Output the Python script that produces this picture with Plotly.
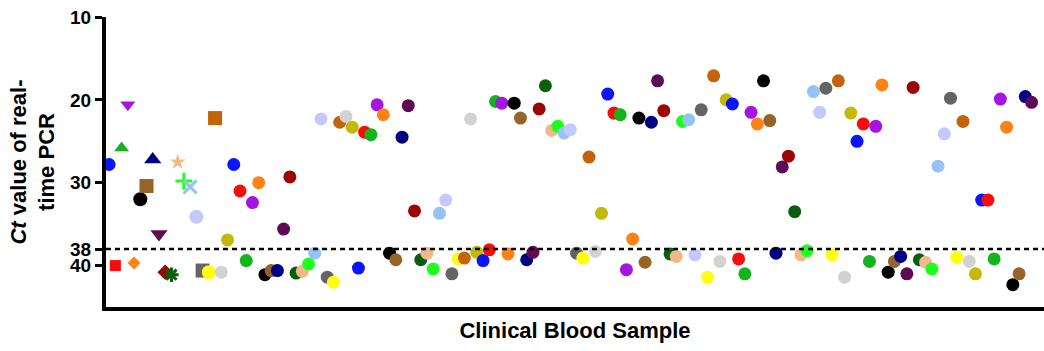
import plotly.graph_objects as go

# Ct values of the clinical blood samples, in sample order (1..149)
ct_values = [
    27.8, 40.0, 25.8, 20.6, 39.7, 32.0, 30.4, 27.2, 36.2, 40.8,
    41.1, 27.5, 29.8, 30.5, 34.1, 40.6, 40.8, 22.2, 40.8, 36.9,
    27.8, 31.0, 39.4, 32.4, 30.0, 41.1, 40.6, 40.6, 35.6, 29.3,
    40.9, 40.7, 39.8, 38.5, 22.3, 41.4, 42.0, 22.7, 22.0, 23.3,
    40.3, 23.9, 24.2, 20.6, 21.8, 38.5, 39.3, 24.5, 20.7, 33.4,
    39.3, 38.5, 40.4, 33.7, 32.1, 41.0, 39.2, 39.1, 22.3, 38.4,
    39.4, 38.1, 20.2, 20.4, 38.6, 20.4, 22.2, 39.3, 38.4, 21.1,
    18.3, 23.7, 23.2, 24.0, 23.6, 38.5, 39.1, 26.9, 38.3, 33.7,
    19.3, 21.6, 21.8, 40.5, 36.8, 22.2, 39.6, 22.7, 17.7, 21.3,
    38.6, 38.9, 22.6, 22.4, 38.7, 21.2, 41.4, 17.1, 39.5, 20.0,
    20.5, 39.2, 41.0, 21.5, 22.9, 17.7, 22.5, 38.5, 28.1, 26.8,
    33.5, 38.7, 38.2, 19.0, 21.5, 18.6, 38.7, 17.7, 41.4, 21.6,
    25.0, 22.9, 39.5, 23.2, 18.2, 40.8, 39.5, 38.9, 41.0, 18.5,
    39.3, 39.6, 40.4, 28.0, 24.1, 19.8, 39.0, 22.6, 39.5, 41.0,
    32.1, 32.1, 39.2, 19.9, 23.3, 42.3, 41.0, 19.6, 20.3,
]
sample_ids = list(range(1, len(ct_values) + 1))

cutoff = 38
y_ticks = [10, 20, 30, 38, 40]

# colour cycle used for consecutive samples
palette = [
    "#0a14ff", "#ff0a0a", "#14b41e", "#a514e1", "#ff8214",
    "#000000", "#966428", "#000082", "#5f0a55", "#9b0505",
    "#0a5f0f", "#f0b98c", "#1eff1e", "#96c3f5", "#c3c8ff",
    "#646464", "#ffff0a", "#c3640a", "#d2d2d2", "#c3b90a",
]
first_symbols = [
    "circle", "square", "triangle-up", "triangle-down", "diamond",
    "circle", "square", "triangle-up", "triangle-down", "diamond",
    "asterisk-open", "star", "cross-thin-open", "x-thin-open", "circle",
    "square", "circle", "square", "circle", "circle",
]
first_sizes = [13, 11, 13, 13, 10, 14, 14, 15, 15, 12,
               12, 12, 12, 13, 14, 14, 14, 14, 13, 13]

colors = [palette[(i - 1) % len(palette)] for i in sample_ids]
symbols = [first_symbols[i - 1] if i <= 20 else "circle" for i in sample_ids]
sizes = [first_sizes[i - 1] if i <= 20 else 13 for i in sample_ids]
line_w = [3 if s.endswith("-open") else 0 for s in symbols]

fig = go.Figure()
fig.add_trace(go.Scatter(
    x=sample_ids, y=ct_values, mode="markers",
    marker=dict(color=colors, symbol=symbols, size=sizes, opacity=1,
                line=dict(color=colors, width=line_w)),
    cliponaxis=False, showlegend=False,
))

fig.add_shape(type="line", xref="paper", x0=0, x1=1, yref="y", y0=cutoff, y1=cutoff,
              line=dict(color="black", width=2.5, dash="5px,4px"))

font_family = "Liberation Sans, Arial, sans-serif"
fig.update_layout(
    width=1044, height=351,
    margin=dict(l=106, r=0, t=17, b=44),
    plot_bgcolor="white", paper_bgcolor="white",
    font=dict(family=font_family, color="black", size=20),
    xaxis=dict(range=[0.5, 151], showgrid=False, zeroline=False,
               showticklabels=False, ticks="",
               showline=True, linecolor="black", linewidth=4,
               title=dict(text="Clinical Blood Sample", standoff=14,
                          font=dict(size=22, weight="bold"))),
    yaxis=dict(range=[45, 10], showgrid=False, zeroline=False,
               tickvals=y_ticks, ticktext=[str(v) for v in y_ticks],
               ticks="outside", ticklen=7, tickwidth=3, tickcolor="black",
               tickfont=dict(size=19, weight="bold"),
               showline=True, linecolor="black", linewidth=4,
               title=dict(text="<i>Ct</i> value of real-<br>time PCR", standoff=10,
                          font=dict(size=22, weight="bold"))),
)

fig.write_html("out.html")
